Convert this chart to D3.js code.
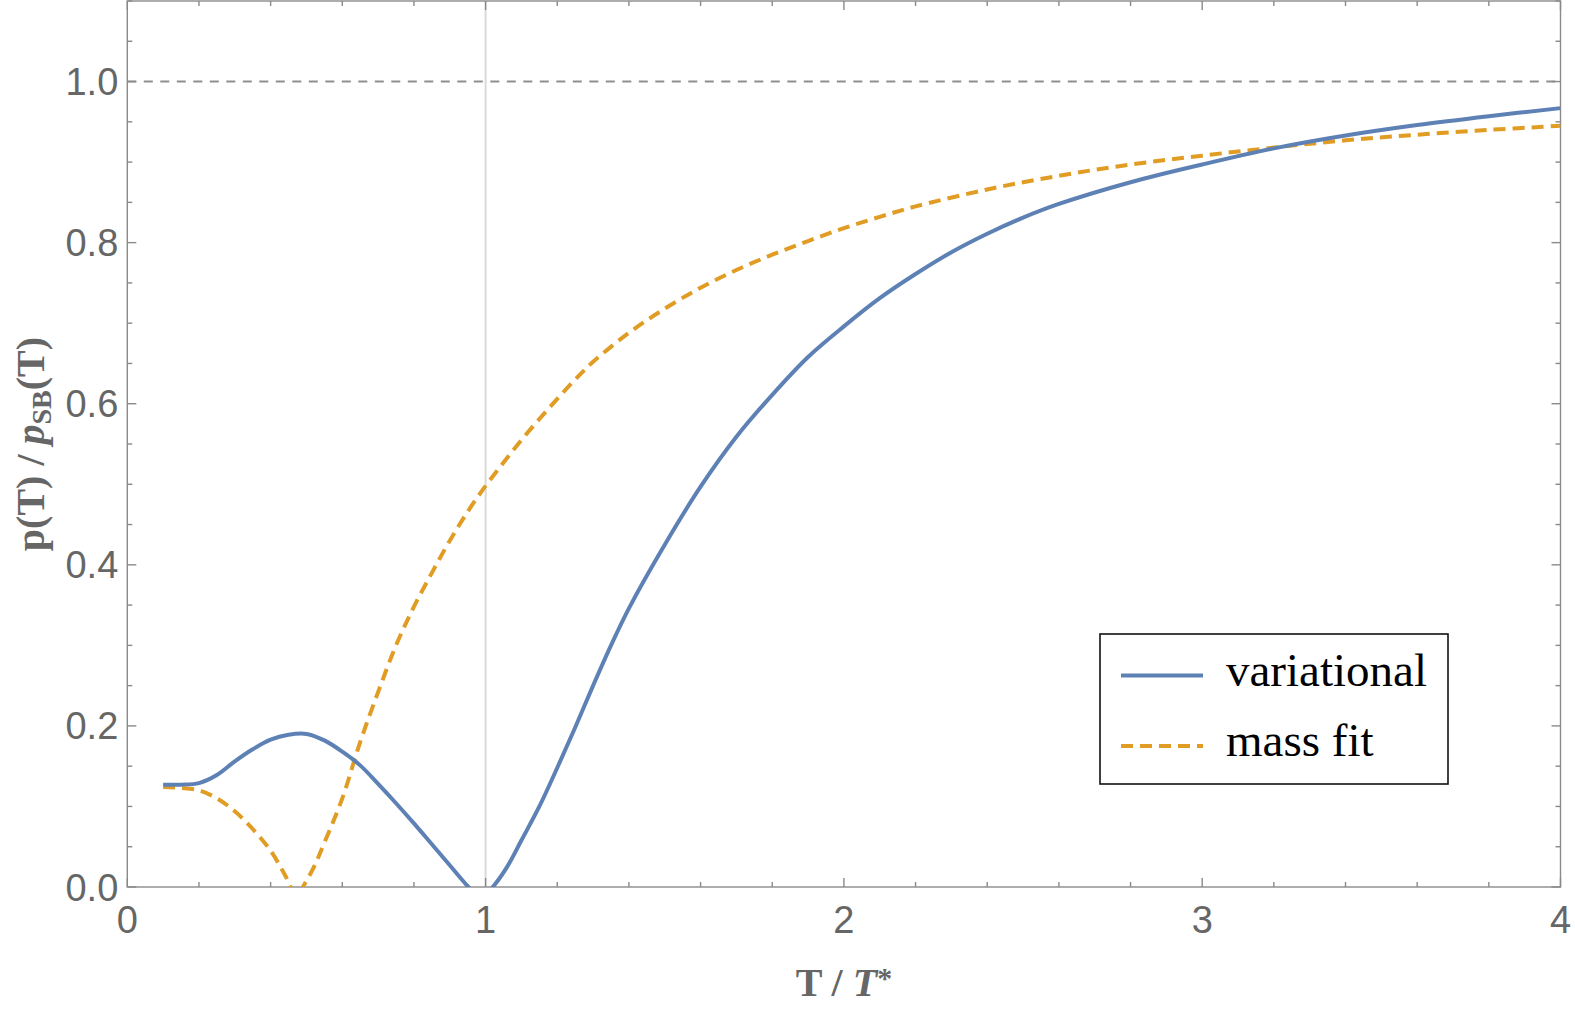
<!DOCTYPE html>
<html>
<head>
<meta charset="utf-8">
<script src="https://cdn.jsdelivr.net/npm/d3@7"></script>
<style>
  body { margin: 0; background: #fff; }
  svg { display: block; }
</style>
</head>
<body>
<div id="chart"></div>
<script>
// variational curve
const tVar = [0.1, 0.15, 0.2, 0.25, 0.3, 0.35, 0.4, 0.45, 0.5, 0.55, 0.6, 0.65, 0.7, 0.75, 0.8, 0.85, 0.9, 0.95, 0.985,
  1.02, 1.06, 1.1, 1.15, 1.2, 1.25, 1.3, 1.35, 1.4, 1.5, 1.6, 1.7, 1.8, 1.9, 2.0, 2.1, 2.2, 2.3, 2.4, 2.5, 2.6, 2.8,
  3.0, 3.2, 3.4, 3.6, 3.8, 4.0];
const pVar = [0.127, 0.127, 0.129, 0.139, 0.156, 0.171, 0.183, 0.189, 0.190, 0.182, 0.168, 0.151, 0.128, 0.104, 0.079, 0.053, 0.027, 0.001, -0.015,
  0.0, 0.025, 0.058, 0.1, 0.148, 0.198, 0.25, 0.3, 0.346, 0.425, 0.497, 0.559, 0.611, 0.658, 0.696, 0.731, 0.761, 0.788, 0.811, 0.831, 0.848, 0.875,
  0.897, 0.917, 0.933, 0.946, 0.957, 0.967];

// mass fit curve
const tFit = [0.1, 0.15, 0.2, 0.25, 0.3, 0.35, 0.4, 0.44, 0.473, 0.49, 0.52, 0.55, 0.6, 0.65, 0.7, 0.75, 0.8, 0.85, 0.9, 0.95,
  1.0, 1.05, 1.1, 1.15, 1.2, 1.25, 1.3, 1.4, 1.5, 1.6, 1.7, 1.8, 1.9, 2.0, 2.1, 2.2, 2.4, 2.6, 2.8, 3.0, 3.2, 3.4, 3.6, 3.8, 4.0];
const pFit = [0.124, 0.123, 0.12, 0.11, 0.094, 0.072, 0.045, 0.015, -0.012, 0.0, 0.024, 0.055, 0.11, 0.18, 0.242, 0.3, 0.348, 0.39, 0.43, 0.466,
  0.498, 0.527, 0.555, 0.581, 0.606, 0.63, 0.652, 0.688, 0.718, 0.744, 0.766, 0.785, 0.802, 0.818, 0.832, 0.845, 0.866, 0.883, 0.897, 0.908, 0.918, 0.927, 0.934, 0.94, 0.945];

const xMajor = [0, 1, 2, 3, 4];
const yMajor = [0.0, 0.2, 0.4, 0.6, 0.8, 1.0];
const seriesNames = ["variational", "mass fit"];

const width = 1575, height = 1013;
const margin = {top: 1, right: 14.5, bottom: 126, left: 127.3};
const blue = "#5e81b5", orange = "#e19c24", axisGray = "#8a8a8a", labelGray = "#666";

const svg = d3.select("#chart").append("svg")
    .attr("width", width)
    .attr("height", height);

const x = d3.scaleLinear().domain([0, 4]).range([margin.left, width - margin.right]);
const y = d3.scaleLinear().domain([0, 1.1]).range([height - margin.bottom, margin.top]);

svg.append("clipPath").attr("id", "plotclip")
  .append("rect")
    .attr("x", x(0)).attr("y", y(1.1))
    .attr("width", x(4) - x(0)).attr("height", y(0) - y(1.1));

// reference lines
svg.append("line")
    .attr("x1", x(1)).attr("x2", x(1))
    .attr("y1", y(0)).attr("y2", y(1.1))
    .attr("stroke", "#d9d9d9").attr("stroke-width", 2);

svg.append("line")
    .attr("x1", x(0)).attr("x2", x(4))
    .attr("y1", y(1)).attr("y2", y(1))
    .attr("stroke", "#8f8f8f").attr("stroke-width", 2)
    .attr("stroke-dasharray", "9,7.5");

// frame + ticks
const xMinor = d3.range(0, 4.001, 0.2).filter(d => Math.abs(d - Math.round(d)) > 1e-6);
const yMinor = d3.range(0, 1.1001, 0.05).filter(d => !yMajor.some(m => Math.abs(m - d) < 1e-6));

const frame = svg.append("g").attr("stroke", axisGray).attr("stroke-width", 1.4);
frame.append("rect")
    .attr("x", x(0)).attr("y", y(1.1))
    .attr("width", x(4) - x(0)).attr("height", y(0) - y(1.1))
    .attr("fill", "none");

function xTicks(vals, len) {
  vals.forEach(v => {
    frame.append("line").attr("x1", x(v)).attr("x2", x(v)).attr("y1", y(0)).attr("y2", y(0) - len);
    frame.append("line").attr("x1", x(v)).attr("x2", x(v)).attr("y1", y(1.1)).attr("y2", y(1.1) + len);
  });
}
function yTicks(vals, len) {
  vals.forEach(v => {
    frame.append("line").attr("x1", x(0)).attr("x2", x(0) + len).attr("y1", y(v)).attr("y2", y(v));
    frame.append("line").attr("x1", x(4)).attr("x2", x(4) - len).attr("y1", y(v)).attr("y2", y(v));
  });
}
xTicks(xMajor, 9);
xTicks(xMinor, 5);
yTicks(yMajor, 9);
yTicks(yMinor, 5);

// tick labels
svg.append("g").selectAll("text")
  .data(xMajor).join("text")
    .attr("x", d => x(d)).attr("y", y(0) + 46)
    .attr("text-anchor", "middle")
    .attr("font-family", "Liberation Sans, Arial, sans-serif")
    .attr("font-size", 38).attr("fill", labelGray)
    .text(d => d);

svg.append("g").selectAll("text")
  .data(yMajor).join("text")
    .attr("x", x(0) - 9).attr("y", d => y(d) + 13.5)
    .attr("text-anchor", "end")
    .attr("font-family", "Liberation Sans, Arial, sans-serif")
    .attr("font-size", 38).attr("fill", labelGray)
    .text(d => d.toFixed(1));

// curves
const line = d3.line()
    .x(d => x(d[0]))
    .y(d => y(d[1]))
    .curve(d3.curveCatmullRom.alpha(0.5));

const plot = svg.append("g").attr("clip-path", "url(#plotclip)");
plot.append("path")
    .attr("d", line(d3.zip(tFit, pFit)))
    .attr("fill", "none").attr("stroke", orange)
    .attr("stroke-width", 4).attr("stroke-dasharray", "12,7");
plot.append("path")
    .attr("d", line(d3.zip(tVar, pVar)))
    .attr("fill", "none").attr("stroke", blue)
    .attr("stroke-width", 4);

// axis labels
const xl = svg.append("text")
    .attr("x", (x(0) + x(4)) / 2).attr("y", 996)
    .attr("text-anchor", "middle")
    .attr("font-family", "Liberation Serif, Times New Roman, serif")
    .attr("font-weight", "bold").attr("font-size", 40).attr("fill", labelGray);
xl.append("tspan").text("T / ");
xl.append("tspan").attr("font-style", "italic").text("T");
xl.append("tspan").attr("font-size", 30).attr("dy", -8).text("*");

const yl = svg.append("text")
    .attr("transform", `translate(44,${(y(0) + y(1.1)) / 2}) rotate(-90)`)
    .attr("text-anchor", "middle")
    .attr("font-family", "Liberation Serif, Times New Roman, serif")
    .attr("font-weight", "bold").attr("font-size", 40).attr("fill", labelGray);
yl.append("tspan").text("p(T) / ");
yl.append("tspan").attr("font-style", "italic").text("p");
yl.append("tspan").attr("font-size", 28).attr("dy", 7).text("SB");
yl.append("tspan").attr("dy", -7).text("(T)");

// legend
const legend = svg.append("g");
legend.append("rect")
    .attr("x", 1100).attr("y", 634).attr("width", 348).attr("height", 150)
    .attr("fill", "#fff").attr("stroke", "#111").attr("stroke-width", 1.6);
const legendItems = [
  {name: seriesNames[0], color: blue, dash: null},
  {name: seriesNames[1], color: orange, dash: "12,7"}
];
legendItems.forEach((d, i) => {
  const yy = 675.5 + i * 70.5;
  legend.append("line")
      .attr("x1", 1121).attr("x2", 1203).attr("y1", yy).attr("y2", yy)
      .attr("stroke", d.color).attr("stroke-width", 4)
      .attr("stroke-dasharray", d.dash);
  legend.append("text")
      .attr("x", 1226).attr("y", yy + 10)
      .attr("font-family", "Liberation Serif, Times New Roman, serif")
      .attr("font-size", 47).attr("fill", "#000")
      .text(d.name);
});
</script>
</body>
</html>
